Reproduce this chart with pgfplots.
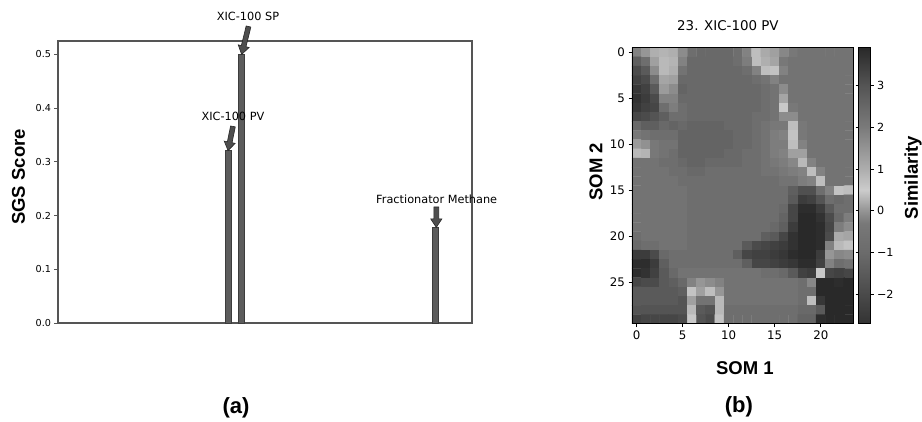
\documentclass[border=0pt]{standalone}
\usepackage{fontspec}
\setmainfont{DejaVu Sans}
\newfontfamily\labfont{Liberation Sans}
\usepackage{pgfplots}
\pgfplotsset{compat=1.18}
\usetikzlibrary{calc}

\definecolor{barfill}{RGB}{92,92,92}
\definecolor{baredge}{RGB}{60,60,60}
\definecolor{arrowfill}{RGB}{78,78,78}
\definecolor{framegray}{RGB}{85,85,85}

\newcommand{\lab}{\labfont\bfseries\fontsize{18.5}{20}\selectfont}
% thick annotation arrow from tail #1 to tip #2
\newcommand{\fatarrow}[2]{%
  \coordinate (s) at #1;
  \coordinate (t) at #2;
  \coordinate (b) at ($(t)!8.5pt!(s)$);
  \filldraw[fill=arrowfill, draw=black!85, line width=0.6pt, line join=miter]
    ($(s)!2.4pt!90:(t)$) -- ($(b)!2.4pt!-90:(s)$) -- ($(b)!5.6pt!-90:(s)$) -- (t)
    -- ($(b)!5.6pt!90:(s)$) -- ($(b)!2.4pt!90:(s)$) -- ($(s)!2.4pt!-90:(t)$) -- cycle;
}

\begin{document}
\begin{tikzpicture}
\path[use as bounding box] (0,0) rectangle (922pt,421pt);

% ---------------- (a) SGS scores ----------------
\begin{axis}[
  at={(58pt,98pt)}, anchor=south west, scale only axis,
  width=414pt, height=282pt,
  xmin=9.9, xmax=41.8, ymin=0, ymax=0.525,
  xtick=\empty,
  ytick={0,0.1,0.2,0.3,0.4,0.5},
  yticklabels={0.0,0.1,0.2,0.3,0.4,0.5},
  ytick pos=left, tick align=outside, major tick length=3.5pt,
  y tick style={draw=framegray, line width=0.8pt},
  tick label style={font=\fontsize{9.6}{10}\selectfont},
  axis line style={draw=framegray, line width=1.1pt},
  every axis y label/.style={at={(axis description cs:-0.0954,0.518)}, rotate=90, anchor=center},
  ylabel={\lab SGS Score},
  clip=false,
]
\addplot[ybar, bar width=0.45, fill=barfill, draw=baredge, line width=0.6pt]
  coordinates {(23,0.321) (24,0.5) (39,0.178)};

\fatarrow{(axis cs:24.58,0.552)}{(axis cs:24.05,0.5)}
\fatarrow{(axis cs:23.38,0.366)}{(axis cs:23.0,0.321)}
\fatarrow{(axis cs:39.05,0.216)}{(axis cs:39.05,0.178)}

\node[font=\fontsize{11.3}{13}\selectfont] at (axis cs:24.54,0.571) {XIC-100 SP};
\node[font=\fontsize{11.3}{13}\selectfont] at (axis cs:23.38,0.384) {XIC-100 PV};
\node[font=\fontsize{11.3}{13}\selectfont] at (axis cs:39.08,0.231) {Fractionator Methane};

\node[font={\labfont\bfseries\fontsize{22}{24}\selectfont}] at (axis description cs:0.43,-0.301) {(a)};
\end{axis}

% ---------------- (b) SOM component plane ----------------
\begin{axis}[
  at={(632pt,97.3pt)}, anchor=south west, scale only axis,
  width=221pt, height=276pt,
  xmin=-0.5, xmax=23.5, ymin=-0.5, ymax=29.5, y dir=reverse,
  enlargelimits=false, axis on top,
  xtick={0,5,...,20}, ytick={0,5,...,25},
  tick pos=left, tick align=outside, major tick length=3.5pt,
  tick style={draw=black, line width=0.8pt},
  tick label style={font=\fontsize{11.8}{13}\selectfont},
  /pgf/number format/assume math mode=true,
  axis line style={draw=black, line width=0.9pt},
  title={\fontsize{13.4}{15}\selectfont 23. XIC-100 PV},
  title style={at={(axis description cs:0.434,1.057)}, anchor=center},
  every axis x label/.style={at={(axis description cs:0.511,-0.1605)}, anchor=center},
  every axis y label/.style={at={(axis description cs:-0.163,0.55)}, rotate=90, anchor=center},
  xlabel={\lab SOM 1},
  ylabel={\lab SOM 2},
  colormap={simgray}{gray(0pt)=(0.20); gray(7pt)=(0.29); gray(17pt)=(0.42);
    gray(24pt)=(0.47); gray(27pt)=(0.58); gray(32pt)=(0.80); gray(37pt)=(0.68);
    gray(47pt)=(0.48); gray(57pt)=(0.33); gray(66pt)=(0.16)},
  point meta min=-2.7, point meta max=3.9,
  colorbar,
  colorbar style={
    at={(parent axis.north east)}, anchor=north west, xshift=-3pt,
    width=12pt,
    ytick={-2,-1,0,1,2,3},
    yticklabels={−2,−1,0,1,2,3},
    tick align=outside, major tick length=3pt,
    tick style={draw=black, line width=0.8pt},
    tick label style={font=\fontsize{11.2}{12}\selectfont},
    axis line style={draw=black, line width=0.9pt},
    every axis y label/.style={at={(axis description cs:4.55,0.53)}, rotate=90, anchor=center},
    ylabel={\lab Similarity},
  },
  clip=false,
]
\addplot[matrix plot*, mesh/cols=24, mesh/rows=30, point meta=explicit] coordinates {
(0,0)[1.85] (1,0)[1.46] (2,0)[0.97] (3,0)[0.89] (4,0)[0.97] (5,0)[1.65] (6,0)[2.33] (7,0)[2.45] (8,0)[2.45] (9,0)[2.45] (10,0)[2.45] (11,0)[2.33] (12,0)[1.85] (13,0)[0.73] (14,0)[1.07] (15,0)[1.26] (16,0)[1.75] (17,0)[2.06] (18,0)[2.19] (19,0)[2.19] (20,0)[2.19] (21,0)[2.19] (22,0)[2.19] (23,0)[2.19]
(0,1)[2.71] (1,1)[2.33] (2,1)[1.26] (3,1)[0.81] (4,1)[0.89] (5,1)[1.85] (6,1)[2.45] (7,1)[2.45] (8,1)[2.45] (9,1)[2.45] (10,1)[2.45] (11,1)[2.33] (12,1)[1.95] (13,1)[0.73] (14,1)[0.97] (15,1)[1.16] (16,1)[2.06] (17,1)[2.19] (18,1)[2.19] (19,1)[2.19] (20,1)[2.19] (21,1)[2.19] (22,1)[2.19] (23,1)[2.19]
(0,2)[3.19] (1,2)[2.85] (2,2)[1.65] (3,2)[0.81] (4,2)[0.97] (5,2)[2.19] (6,2)[2.45] (7,2)[2.45] (8,2)[2.45] (9,2)[2.45] (10,2)[2.45] (11,2)[2.45] (12,2)[2.33] (13,2)[1.85] (14,2)[0.73] (15,2)[0.65] (16,2)[1.85] (17,2)[2.19] (18,2)[2.19] (19,2)[2.19] (20,2)[2.19] (21,2)[2.19] (22,2)[2.19] (23,2)[2.19]
(0,3)[3.40] (1,3)[3.19] (2,3)[2.33] (3,3)[1.16] (4,3)[1.26] (5,3)[2.45] (6,3)[2.45] (7,3)[2.45] (8,3)[2.45] (9,3)[2.45] (10,3)[2.45] (11,3)[2.45] (12,3)[2.45] (13,3)[2.33] (14,3)[2.19] (15,3)[1.85] (16,3)[2.19] (17,3)[2.19] (18,3)[2.19] (19,3)[2.19] (20,3)[2.19] (21,3)[2.19] (22,3)[2.19] (23,3)[2.19]
(0,4)[3.60] (1,4)[3.40] (2,4)[2.85] (3,4)[1.36] (4,4)[1.65] (5,4)[2.59] (6,4)[2.45] (7,4)[2.45] (8,4)[2.45] (9,4)[2.45] (10,4)[2.45] (11,4)[2.45] (12,4)[2.45] (13,4)[2.45] (14,4)[2.33] (15,4)[2.19] (16,4)[1.65] (17,4)[2.19] (18,4)[2.19] (19,4)[2.19] (20,4)[2.19] (21,4)[2.19] (22,4)[2.19] (23,4)[2.19]
(0,5)[3.71] (1,5)[3.50] (2,5)[3.19] (3,5)[1.85] (4,5)[1.85] (5,5)[2.45] (6,5)[2.45] (7,5)[2.45] (8,5)[2.45] (9,5)[2.45] (10,5)[2.45] (11,5)[2.45] (12,5)[2.45] (13,5)[2.45] (14,5)[2.33] (15,5)[2.19] (16,5)[1.16] (17,5)[2.19] (18,5)[2.19] (19,5)[2.19] (20,5)[2.19] (21,5)[2.19] (22,5)[2.19] (23,5)[2.19]
(0,6)[3.60] (1,6)[3.40] (2,6)[3.29] (3,6)[2.33] (4,6)[1.95] (5,6)[2.33] (6,6)[2.45] (7,6)[2.45] (8,6)[2.45] (9,6)[2.45] (10,6)[2.45] (11,6)[2.45] (12,6)[2.45] (13,6)[2.45] (14,6)[2.33] (15,6)[2.19] (16,6)[0.57] (17,6)[2.06] (18,6)[2.19] (19,6)[2.19] (20,6)[2.19] (21,6)[2.19] (22,6)[2.19] (23,6)[2.19]
(0,7)[3.29] (1,7)[3.19] (2,7)[3.00] (3,7)[2.71] (4,7)[2.33] (5,7)[2.33] (6,7)[2.45] (7,7)[2.45] (8,7)[2.45] (9,7)[2.45] (10,7)[2.45] (11,7)[2.45] (12,7)[2.45] (13,7)[2.33] (14,7)[2.33] (15,7)[2.19] (16,7)[1.65] (17,7)[1.65] (18,7)[2.19] (19,7)[2.19] (20,7)[2.19] (21,7)[2.19] (22,7)[2.19] (23,7)[2.19]
(0,8)[2.45] (1,8)[2.71] (2,8)[2.71] (3,8)[2.45] (4,8)[2.59] (5,8)[2.45] (6,8)[2.59] (7,8)[2.59] (8,8)[2.59] (9,8)[2.59] (10,8)[2.45] (11,8)[2.45] (12,8)[2.45] (13,8)[2.33] (14,8)[2.19] (15,8)[2.06] (16,8)[2.06] (17,8)[0.73] (18,8)[2.06] (19,8)[2.19] (20,8)[2.19] (21,8)[2.19] (22,8)[2.19] (23,8)[2.19]
(0,9)[2.06] (1,9)[2.19] (2,9)[2.33] (3,9)[2.33] (4,9)[2.33] (5,9)[2.59] (6,9)[2.59] (7,9)[2.59] (8,9)[2.59] (9,9)[2.59] (10,9)[2.59] (11,9)[2.45] (12,9)[2.45] (13,9)[2.33] (14,9)[2.19] (15,9)[1.95] (16,9)[1.85] (17,9)[0.65] (18,9)[2.06] (19,9)[2.19] (20,9)[2.19] (21,9)[2.19] (22,9)[2.19] (23,9)[2.19]
(0,10)[1.36] (1,10)[1.55] (2,10)[2.06] (3,10)[2.19] (4,10)[2.19] (5,10)[2.59] (6,10)[2.59] (7,10)[2.59] (8,10)[2.59] (9,10)[2.59] (10,10)[2.59] (11,10)[2.45] (12,10)[2.45] (13,10)[2.33] (14,10)[2.19] (15,10)[1.95] (16,10)[1.95] (17,10)[0.73] (18,10)[1.85] (19,10)[2.19] (20,10)[2.19] (21,10)[2.19] (22,10)[2.19] (23,10)[2.19]
(0,11)[0.81] (1,11)[0.89] (2,11)[2.06] (3,11)[2.19] (4,11)[2.33] (5,11)[2.59] (6,11)[2.59] (7,11)[2.59] (8,11)[2.59] (9,11)[2.59] (10,11)[2.45] (11,11)[2.45] (12,11)[2.33] (13,11)[2.33] (14,11)[2.19] (15,11)[1.95] (16,11)[1.85] (17,11)[1.26] (18,11)[1.26] (19,11)[2.19] (20,11)[2.19] (21,11)[2.19] (22,11)[2.19] (23,11)[2.19]
(0,12)[2.19] (1,12)[2.19] (2,12)[2.19] (3,12)[2.33] (4,12)[2.33] (5,12)[2.45] (6,12)[2.59] (7,12)[2.59] (8,12)[2.45] (9,12)[2.45] (10,12)[2.45] (11,12)[2.45] (12,12)[2.33] (13,12)[2.33] (14,12)[2.19] (15,12)[2.06] (16,12)[1.95] (17,12)[1.75] (18,12)[0.81] (19,12)[1.85] (20,12)[2.19] (21,12)[2.19] (22,12)[2.19] (23,12)[2.19]
(0,13)[2.19] (1,13)[2.19] (2,13)[2.19] (3,13)[2.19] (4,13)[2.33] (5,13)[2.33] (6,13)[2.45] (7,13)[2.45] (8,13)[2.33] (9,13)[2.33] (10,13)[2.33] (11,13)[2.33] (12,13)[2.33] (13,13)[2.33] (14,13)[2.19] (15,13)[2.19] (16,13)[2.06] (17,13)[1.95] (18,13)[1.85] (19,13)[0.73] (20,13)[1.85] (21,13)[2.19] (22,13)[2.19] (23,13)[2.19]
(0,14)[2.19] (1,14)[2.19] (2,14)[2.19] (3,14)[2.19] (4,14)[2.19] (5,14)[2.33] (6,14)[2.33] (7,14)[2.33] (8,14)[2.33] (9,14)[2.33] (10,14)[2.33] (11,14)[2.33] (12,14)[2.33] (13,14)[2.33] (14,14)[2.33] (15,14)[2.33] (16,14)[2.19] (17,14)[2.19] (18,14)[1.95] (19,14)[1.85] (20,14)[0.73] (21,14)[2.19] (22,14)[2.19] (23,14)[2.19]
(0,15)[2.19] (1,15)[2.19] (2,15)[2.19] (3,15)[2.19] (4,15)[2.19] (5,15)[2.19] (6,15)[2.33] (7,15)[2.33] (8,15)[2.33] (9,15)[2.33] (10,15)[2.33] (11,15)[2.33] (12,15)[2.33] (13,15)[2.33] (14,15)[2.33] (15,15)[2.33] (16,15)[2.33] (17,15)[2.71] (18,15)[3.08] (19,15)[3.08] (20,15)[2.33] (21,15)[1.85] (22,15)[0.65] (23,15)[0.73]
(0,16)[2.19] (1,16)[2.19] (2,16)[2.19] (3,16)[2.19] (4,16)[2.19] (5,16)[2.19] (6,16)[2.33] (7,16)[2.33] (8,16)[2.33] (9,16)[2.33] (10,16)[2.33] (11,16)[2.33] (12,16)[2.33] (13,16)[2.33] (14,16)[2.33] (15,16)[2.33] (16,16)[2.33] (17,16)[2.85] (18,16)[3.50] (19,16)[3.40] (20,16)[3.00] (21,16)[2.33] (22,16)[2.45] (23,16)[2.33]
(0,17)[2.19] (1,17)[2.19] (2,17)[2.19] (3,17)[2.19] (4,17)[2.19] (5,17)[2.19] (6,17)[2.33] (7,17)[2.33] (8,17)[2.33] (9,17)[2.33] (10,17)[2.33] (11,17)[2.33] (12,17)[2.33] (13,17)[2.33] (14,17)[2.33] (15,17)[2.33] (16,17)[2.45] (17,17)[3.29] (18,17)[3.82] (19,17)[3.82] (20,17)[3.50] (21,17)[2.85] (22,17)[2.33] (23,17)[2.33]
(0,18)[2.19] (1,18)[2.19] (2,18)[2.19] (3,18)[2.19] (4,18)[2.19] (5,18)[2.19] (6,18)[2.33] (7,18)[2.33] (8,18)[2.33] (9,18)[2.33] (10,18)[2.33] (11,18)[2.33] (12,18)[2.33] (13,18)[2.33] (14,18)[2.33] (15,18)[2.33] (16,18)[2.59] (17,18)[3.29] (18,18)[3.90] (19,18)[3.90] (20,18)[3.71] (21,18)[3.19] (22,18)[2.45] (23,18)[1.95]
(0,19)[2.19] (1,19)[2.19] (2,19)[2.19] (3,19)[2.19] (4,19)[2.19] (5,19)[2.19] (6,19)[2.33] (7,19)[2.33] (8,19)[2.33] (9,19)[2.33] (10,19)[2.33] (11,19)[2.33] (12,19)[2.33] (13,19)[2.33] (14,19)[2.33] (15,19)[2.45] (16,19)[2.71] (17,19)[3.50] (18,19)[3.90] (19,19)[3.90] (20,19)[3.82] (21,19)[3.29] (22,19)[1.95] (23,19)[1.65]
(0,20)[2.33] (1,20)[2.19] (2,20)[2.19] (3,20)[2.19] (4,20)[2.19] (5,20)[2.19] (6,20)[2.33] (7,20)[2.33] (8,20)[2.33] (9,20)[2.33] (10,20)[2.33] (11,20)[2.33] (12,20)[2.33] (13,20)[2.33] (14,20)[2.71] (15,20)[2.85] (16,20)[3.29] (17,20)[3.71] (18,20)[3.90] (19,20)[3.90] (20,20)[3.82] (21,20)[3.19] (22,20)[1.07] (23,20)[1.16]
(0,21)[2.45] (1,21)[2.33] (2,21)[2.33] (3,21)[2.19] (4,21)[2.19] (5,21)[2.19] (6,21)[2.33] (7,21)[2.33] (8,21)[2.33] (9,21)[2.33] (10,21)[2.33] (11,21)[2.33] (12,21)[2.85] (13,21)[3.19] (14,21)[3.29] (15,21)[3.40] (16,21)[3.50] (17,21)[3.71] (18,21)[3.90] (19,21)[3.90] (20,21)[3.82] (21,21)[1.85] (22,21)[0.81] (23,21)[0.65]
(0,22)[3.50] (1,22)[3.50] (2,22)[3.19] (3,22)[2.45] (4,22)[2.33] (5,22)[2.33] (6,22)[2.33] (7,22)[2.33] (8,22)[2.33] (9,22)[2.33] (10,22)[2.33] (11,22)[2.71] (12,22)[3.29] (13,22)[3.40] (14,22)[3.40] (15,22)[3.50] (16,22)[3.60] (17,22)[3.82] (18,22)[3.90] (19,22)[3.90] (20,22)[3.50] (21,22)[1.46] (22,22)[1.75] (23,22)[1.65]
(0,23)[3.82] (1,23)[3.82] (2,23)[3.50] (3,23)[2.71] (4,23)[2.33] (5,23)[2.33] (6,23)[2.33] (7,23)[2.33] (8,23)[2.33] (9,23)[2.33] (10,23)[2.33] (11,23)[2.33] (12,23)[2.71] (13,23)[3.29] (14,23)[3.29] (15,23)[3.40] (16,23)[3.50] (17,23)[3.60] (18,23)[3.82] (19,23)[3.82] (20,23)[3.40] (21,23)[1.85] (22,23)[2.33] (23,23)[2.19]
(0,24)[3.82] (1,24)[3.71] (2,24)[3.40] (3,24)[2.85] (4,24)[2.45] (5,24)[2.19] (6,24)[2.19] (7,24)[2.19] (8,24)[2.19] (9,24)[2.19] (10,24)[2.19] (11,24)[2.19] (12,24)[2.19] (13,24)[2.19] (14,24)[2.33] (15,24)[2.33] (16,24)[2.45] (17,24)[2.85] (18,24)[3.40] (19,24)[3.50] (20,24)[0.57] (21,24)[3.29] (22,24)[3.40] (23,24)[3.29]
(0,25)[3.29] (1,25)[3.19] (2,25)[3.19] (3,25)[2.85] (4,25)[2.71] (5,25)[2.45] (6,25)[1.85] (7,25)[1.46] (8,25)[1.65] (9,25)[1.85] (10,25)[2.19] (11,25)[2.19] (12,25)[2.19] (13,25)[2.19] (14,25)[2.19] (15,25)[2.19] (16,25)[2.19] (17,25)[2.19] (18,25)[2.33] (19,25)[1.75] (20,25)[3.90] (21,25)[3.90] (22,25)[3.82] (23,25)[3.90]
(0,26)[2.85] (1,26)[2.85] (2,26)[2.85] (3,26)[2.85] (4,26)[2.85] (5,26)[2.71] (6,26)[0.65] (7,26)[1.26] (8,26)[0.73] (9,26)[1.46] (10,26)[2.19] (11,26)[2.19] (12,26)[2.19] (13,26)[2.19] (14,26)[2.19] (15,26)[2.19] (16,26)[2.19] (17,26)[2.19] (18,26)[2.33] (19,26)[2.33] (20,26)[3.90] (21,26)[3.90] (22,26)[3.90] (23,26)[3.90]
(0,27)[2.85] (1,27)[2.85] (2,27)[2.85] (3,27)[2.85] (4,27)[2.85] (5,27)[3.00] (6,27)[1.26] (7,27)[2.19] (8,27)[2.19] (9,27)[0.81] (10,27)[2.19] (11,27)[2.19] (12,27)[2.19] (13,27)[2.19] (14,27)[2.19] (15,27)[2.19] (16,27)[2.19] (17,27)[2.19] (18,27)[2.33] (19,27)[0.73] (20,27)[3.60] (21,27)[3.90] (22,27)[3.90] (23,27)[3.90]
(0,28)[3.00] (1,28)[3.00] (2,28)[3.00] (3,28)[3.00] (4,28)[3.00] (5,28)[3.00] (6,28)[0.81] (7,28)[2.85] (8,28)[3.00] (9,28)[0.81] (10,28)[2.33] (11,28)[2.33] (12,28)[2.33] (13,28)[2.33] (14,28)[2.33] (15,28)[2.33] (16,28)[2.33] (17,28)[2.33] (18,28)[2.45] (19,28)[2.45] (20,28)[2.85] (21,28)[3.90] (22,28)[3.90] (23,28)[3.90]
(0,29)[3.40] (1,29)[3.29] (2,29)[3.29] (3,29)[3.29] (4,29)[3.29] (5,29)[3.19] (6,29)[0.57] (7,29)[3.00] (8,29)[3.19] (9,29)[0.65] (10,29)[2.33] (11,29)[2.33] (12,29)[2.33] (13,29)[2.33] (14,29)[2.33] (15,29)[2.33] (16,29)[2.33] (17,29)[2.33] (18,29)[2.59] (19,29)[2.59] (20,29)[3.82] (21,29)[3.90] (22,29)[3.90] (23,29)[3.90]
};
\node[font={\labfont\bfseries\fontsize{22}{24}\selectfont}] at (axis description cs:0.484,-0.302) {(b)};
\end{axis}
\end{tikzpicture}
\end{document}
